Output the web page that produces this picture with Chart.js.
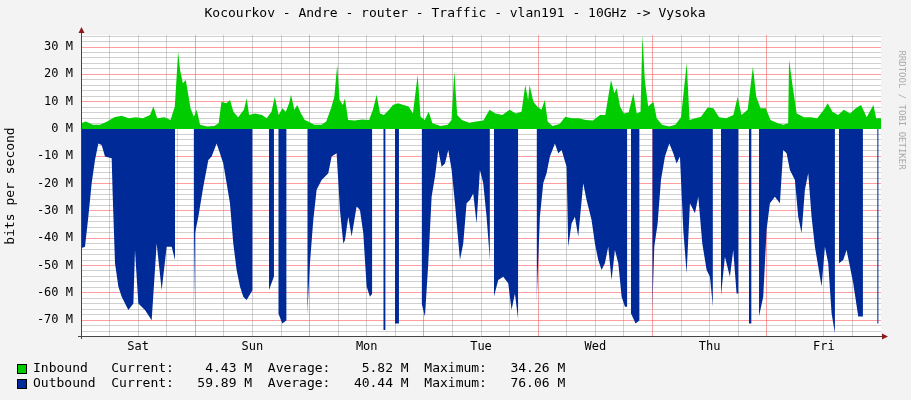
<!DOCTYPE html>
<html><head><meta charset="utf-8">
<script src="https://cdn.jsdelivr.net/npm/chart.js@4/dist/chart.umd.min.js"></script>
<style>html,body{margin:0;padding:0;background:#f3f3f3}canvas{display:block}</style>
</head><body>
<canvas id="c" width="911" height="400"></canvas>
<script>
const dayLabels = {12:"Sat",36:"Sun",60:"Mon",84:"Tue",108:"Wed",132:"Thu",156:"Fri"};
const yTickLabels = [30,20,10,0,-10,-20,-30,-40,-50,-60,-70];
// hours since start (Sat 00:00), inbound bits/s in M
const inHours = [0,1,2.5,4,5.5,7,8.5,10,11.5,13,14.5,15.2,16,17.5,18.8,19.7,20.4,20.8,21.4,22,22.6,23,23.7,24.3,25,26.5,28,28.9,29.5,30.5,31.3,32,33,34.2,34.8,35.3,36.5,38,39,40,40.7,41.5,42.3,43,43.7,44.1,44.8,45.4,46.2,47,47.7,49,50.5,51.5,52.5,53.2,53.8,54.3,55,55.43,56.1,57.5,59,60.5,61.3,62.1,62.8,63.6,64.7,65.5,66.6,67.7,68.8,69.7,70.7,71.3,72.2,73,73.8,75.5,77,77.8,78.4,79,80,81.5,83,84.5,85.8,87,88.5,90,91.3,92.5,93.3,93.9,94.2,95,95.8,96.7,97.4,98,99,100.5,101.7,103,104.5,106,107.5,109,110.1,111.3,112,112.5,113.2,114,115,116,116.7,117.5,117.9,118.4,119.1,120.2,120.9,122,123.5,124.8,126,127.2,127.8,129,130.2,131.6,132.8,134,135.5,137,137.9,138.7,140,141.1,141.8,142.7,143.8,144.8,146.3,147.5,148.5,148.7,149.4,150.3,151.8,153.2,154.6,156,156.8,157.8,159,160.2,161.5,162.7,163.8,165,166.4,167,168];
const inValues = [2.1,2.7,1.5,1.5,2.7,4.3,4.8,3.9,4.3,3.9,5.1,8.2,3.9,4.3,3.3,8.2,28.3,21.6,16.7,17.9,11.8,7.6,4.5,7,1.5,0.9,1.1,2.1,10,9.4,10.6,6.3,4.3,7,11.2,5.1,5.7,5.1,3.9,6.3,11.8,5.1,7.6,6.3,9.4,12.5,7,8.8,5.7,3.3,2.7,1.5,1.5,2.7,7.6,11.8,23.4,10.6,8.8,11.2,3.3,3.1,3.5,3.3,7,12.5,5.7,5.1,7,8.8,9.4,8.8,8.2,5.7,19.8,4.5,3.3,6.3,2.1,1.1,1.5,3.3,21,5.1,3.3,2.3,2.7,3.1,7,5.7,5.1,7,5.7,6.3,16.1,10.6,16.1,10,8.2,7,10.6,2.7,1.1,1.8,4.5,3.9,3.9,3.3,3.1,5.1,5.1,17.9,13.1,14.9,8.2,5.7,6,13.1,5.7,6.3,34.4,17.9,8.2,10,3.9,1.5,0.9,1.5,4.3,24.1,3.3,3.9,4.5,7.9,7.6,4.3,3.9,5.1,11.8,5.1,7,22.8,11.8,7.6,7.6,3.3,2.1,1.5,2.1,25.3,16.1,5.7,4.3,4.3,3.9,7,9.4,6.3,5.1,7,5.7,7.6,8.8,4.3,8.8,3.9,3.9];
// outbound (negative), null = no data
const outHours = [0,0.84,1.54,2.24,2.94,3.64,4.34,5.04,6.44,6.65,7.14,7.84,8.54,9.94,11,11.34,12.04,13.44,14.84,15.89,16.94,17.99,19.04,19.74,20.0,20.2,20.22,20.32,20.5,23.5,23.65,23.94,24.64,25.69,26.74,27.43,28.48,29.18,29.88,30.58,31.28,31.98,32.68,33.38,34.08,34.78,36.04,36.3,39.3,39.47,40.52,40.8,41.3,41.43,42.27,43.18,43.5,47.4,47.52,48.08,48.78,49.48,50.53,51.93,52.63,53.68,54.38,55.08,55.43,56.13,56.83,57.88,58.58,59.28,59.98,60.68,61.17,61.5,63.3,63.48,63.97,64.3,65.8,65.93,66.77,67.0,71.4,71.53,72.23,72.93,73.63,74.33,75.03,75.73,76.43,77.13,77.83,78.53,79.58,80.27,80.97,81.67,82.37,83.07,83.77,84.47,85.17,85.87,86.3,86.6,86.71,87.62,88.67,89.72,90.42,91.12,91.82,92.2,95.5,95.67,96.37,97.07,97.77,98.47,99.52,100.22,100.92,101.97,102.32,103.02,103.72,104.42,105.47,106.17,107.22,107.92,108.62,109.32,110.02,110.72,111.42,112.12,112.83,113.53,114.23,114.72,115.0,115.3,115.49,116.47,117.31,117.6,119.8,119.97,120.39,121.09,121.79,122.63,123.54,124.38,125.08,125.78,126.48,127.18,127.88,128.93,129.63,130.47,131.38,132.08,132.7,133.0,134.2,134.38,135.22,136.27,136.97,137.67,138.09,138.4,140.1,140.26,140.82,141.0,142.2,142.36,143.27,143.97,144.67,145.72,146.77,147.47,148.17,148.87,149.92,150.62,151.32,152.02,152.72,153.42,154.12,154.82,155.52,156.22,156.92,157.62,158.32,158.7,159.0,159.16,160.07,160.77,161.47,162.17,163.22,164.2,164.5,167.0,167.2,167.5,167.7];
const outValues = [-43.7,-43.1,-32.1,-19.9,-11.4,-5.3,-5.9,-10.1,-10.7,-23.8,-49.2,-57.7,-61.4,-66.3,-63.9,-44.3,-63.9,-66.3,-70,-41.9,-59,-43.1,-43.1,-48,null,null,-61.5,-61.5,null,null,-72.4,-38.2,-32.1,-21.1,-11.4,-10.1,-5.3,-8.9,-12.6,-19.9,-27.2,-41.9,-51.6,-57.7,-61.4,-62.6,-59,null,null,-59,-54,null,null,-67.5,-71.2,-70,null,null,-68.1,-49.2,-33.3,-22.3,-18.7,-16.2,-10.1,-8.9,-29.7,-41.9,-40.7,-32.1,-39.4,-28.4,-29.7,-38.2,-57.7,-61.4,-60.2,null,null,-73.6,-73.6,null,null,-71.2,-71.2,null,null,-63.9,-68.7,-49.2,-24.8,-17.5,-7.7,-13.8,-12.6,-7.7,-15,-27.2,-48,-41.9,-27.2,-26,-23.6,-34.6,-15,-19.9,-32.1,-48,null,null,-61.4,-55.3,-54.1,-56.5,-66.3,-60.2,-70,null,null,-63.9,-32.1,-19.9,-16.2,-10.1,-5.3,-8.9,-7.7,-13.8,-43.1,-34.6,-32.1,-39.4,-19.9,-26,-33.3,-41.9,-48,-51.6,-49.2,-43.1,-55.3,-44.3,-49.2,-61.4,-65.1,-65.1,null,null,-67.5,-71.2,-70,null,null,-66.3,-43.1,-34.6,-18.7,-10.1,-5.3,-8.9,-12.6,-10.1,-37,-52.9,-27.2,-30.9,-24.8,-41.9,-51.6,-54.1,-65.1,null,null,-61.4,-46.8,-54.1,-44.3,-60.2,-60.2,null,null,-71.2,-71.2,null,null,-68.7,-61.4,-37,-27.2,-24.8,-27.2,-7.7,-8.9,-15,-18.7,-32.1,-38.2,-22.3,-16.2,-32.1,-43.1,-50.4,-57.7,-43.1,-49.2,-67.5,-74.8,null,null,-49.2,-48,-44.3,-50.4,-56.5,-68.7,-68.7,null,null,-71.2,-71.2,null];

const inData = inHours.map((h,i)=>({x:h,y:inValues[i]}));
const outData = outHours.map((h,i)=>({x:h,y:outValues[i]}));
const MONO = '"DejaVu Sans Mono", monospace';

const deco = {
  id:'deco',
  beforeDraw(c){
    const g=c.ctx, a=c.chartArea;
    g.save(); g.fillStyle='#f3f3f3'; g.fillRect(0,0,c.width,c.height);
    g.fillStyle='#ffffff'; g.fillRect(a.left,a.top,a.right-a.left,a.bottom-a.top); g.restore();
  },
  afterDraw(c){
    const g=c.ctx, a=c.chartArea;
    g.save();
    g.fillStyle='#000'; g.font='13px '+MONO; g.textBaseline='middle'; g.textAlign='center';
    g.fillText('Kocourkov - Andre - router - Traffic - vlan191 - 10GHz -> Vysoka', 455, 14);
    g.save(); g.translate(11,186); g.rotate(-Math.PI/2); g.fillText('bits per second',0,0); g.restore();
    g.save(); g.translate(901,110); g.rotate(Math.PI/2); g.fillStyle='#aaaaaa'; g.font='9px '+MONO;
    g.fillText('RRDTOOL / TOBI OETIKER',0,0); g.restore();
    // axes
    g.strokeStyle='#444'; g.lineWidth=1;
    g.beginPath(); g.moveTo(a.left-3,a.bottom+0.5); g.lineTo(a.right+2,a.bottom+0.5);
    g.moveTo(a.left+0.5,a.bottom+3); g.lineTo(a.left+0.5,a.top-5); g.stroke();
    g.fillStyle='#8b1a1a';
    g.beginPath(); g.moveTo(a.right+7,a.bottom+0.5); g.lineTo(a.right+1,a.bottom-2.5); g.lineTo(a.right+1,a.bottom+3.5); g.fill();
    g.beginPath(); g.moveTo(a.left+0.5,a.top-8); g.lineTo(a.left-2.5,a.top-2); g.lineTo(a.left+3.5,a.top-2); g.fill();
    // legend
    g.textAlign='left'; g.font='13px '+MONO;
    const rows=[['#00cc00','Inbound   Current:    4.43 M  Average:    5.82 M  Maximum:   34.26 M',369],
                ['#002a97','Outbound  Current:   59.89 M  Average:   40.44 M  Maximum:   76.06 M',384]];
    rows.forEach(r=>{ g.fillStyle=r[0]; g.fillRect(17,r[2]-5,10,10); g.strokeStyle='#000'; g.strokeRect(17.5,r[2]-4.5,9,9);
      g.fillStyle='#000'; g.fillText(r[1],33,r[2]); });
    g.restore();
  }
};

new Chart(document.getElementById('c'),{
  type:'line',
  data:{datasets:[
    {label:'Inbound',data:inData,backgroundColor:'#00cc00',borderColor:'#00cc00',borderWidth:0,fill:'origin',pointRadius:0,tension:0},
    {label:'Outbound',data:outData,backgroundColor:'#002a97',borderColor:'#002a97',borderWidth:0,fill:'origin',pointRadius:0,tension:0,spanGaps:false}
  ]},
  options:{
    responsive:false,animation:false,
    layout:{padding:{left:0,right:30,top:35,bottom:0}},
    plugins:{legend:{display:false},tooltip:{enabled:false}},
    scales:{
      x:{type:'linear',min:0,max:168,z:1,border:{display:false},
        afterFit(s){s.height=64;},
        afterBuildTicks(s){const t=[];for(let h=6;h<168;h+=6)t.push({value:h});s.ticks=t;},
        grid:{drawTicks:false,color:ctx=>(ctx.tick&&ctx.tick.value%24===0)?'rgba(255,80,80,0.55)':'rgba(150,150,150,0.45)',borderDash:[1,2],lineWidth:1},
        ticks:{padding:4,autoSkip:false,maxRotation:0,color:'#000',font:{family:MONO,size:12},callback:v=>dayLabels[v]||''}},
      y:{min:-75.8,max:34.4,z:1,border:{display:false},
        afterFit(s){s.width=81;},
        afterBuildTicks(s){const t=[];for(let v=-74;v<=34;v+=2)t.push({value:v});s.ticks=t;},
        grid:{drawTicks:false,color:ctx=>(ctx.tick&&ctx.tick.value%10===0)?'rgba(255,80,80,0.55)':'rgba(150,150,150,0.45)',borderDash:[1,2],lineWidth:1},
        ticks:{padding:8,autoSkip:false,color:'#000',font:{family:MONO,size:12},callback:v=>yTickLabels.includes(v)?(v+' M'):''}}
    }
  },
  plugins:[deco]
});
</script>
</body></html>
